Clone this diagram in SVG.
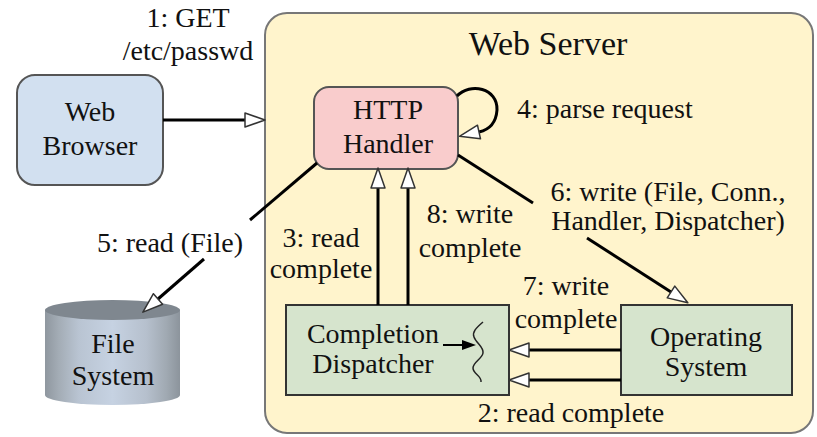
<svg xmlns="http://www.w3.org/2000/svg" width="817" height="437" viewBox="0 0 817 437" font-family="Liberation Serif, Times New Roman, serif" font-size="28">
<style>
.c{text-anchor:middle}
.ln{stroke:#000;stroke-width:3;fill:none}
.arr{marker-end:url(#open)}
.box{stroke:#333;stroke-width:2;fill:#d6e4cd}
</style>
<defs>
<marker id="open" markerUnits="userSpaceOnUse" markerWidth="26" markerHeight="20" refX="2" refY="9" orient="auto">
<path d="M2,2 L22,9 L2,16 z" fill="#fff" stroke="#333" stroke-width="1.5" stroke-linejoin="round"/>
</marker>
<linearGradient id="cyl" x1="0" y1="0" x2="1" y2="0">
<stop offset="0" stop-color="#8f979f"/>
<stop offset="0.1" stop-color="#a3acb5"/>
<stop offset="0.25" stop-color="#b9c4d2"/>
<stop offset="0.5" stop-color="#c6d2e2"/>
<stop offset="0.75" stop-color="#b6c0cd"/>
<stop offset="0.9" stop-color="#a0a9b2"/>
<stop offset="1" stop-color="#8c949c"/>
</linearGradient>
</defs>
<rect width="817" height="437" fill="#fff"/>

<g id="web-server">
<rect x="265" y="13" width="548" height="420" rx="22" fill="#fff4cc" stroke="#777" stroke-width="2"/>
<text class="c" x="548" y="55" font-size="34" fill="#111">Web Server</text>
</g>

<g id="web-browser" fill="#111">
<rect x="17" y="75" width="146" height="110" rx="18" fill="#d2e0f0" stroke="#555" stroke-width="2"/>
<text class="c" x="90" y="121">Web</text>
<text class="c" x="90" y="155">Browser</text>
</g>

<g id="http-handler" fill="#111">
<rect x="314" y="87" width="144" height="82" rx="15" fill="#f9cccc" stroke="#555" stroke-width="2"/>
<text class="c" x="388" y="119">HTTP</text>
<text class="c" x="388" y="153">Handler</text>
</g>

<g id="completion-dispatcher" fill="#111">
<rect class="box" x="286" y="305" width="223" height="90"/>
<text class="c" x="373" y="343">Completion</text>
<text class="c" x="373" y="373">Dispatcher</text>
<line x1="443" y1="345" x2="463" y2="345" stroke="#000" stroke-width="2"/>
<polygon points="462,340 476,345 462,350" fill="#000"/>
<path d="M483,322 C476,328 472,332 474,337 C476,343 484,347 483,353 C482,359 473,362 473,368 C473,374 482,376 481,382" fill="none" stroke="#222" stroke-width="1.5"/>
</g>

<g id="operating-system" fill="#111">
<rect class="box" x="621" y="305" width="171" height="90"/>
<text class="c" x="706" y="346">Operating</text>
<text class="c" x="706" y="376">System</text>
</g>

<g id="file-system" fill="#111">
<path d="M45,310 L45,395 A67.5,10 0 0 0 180,395 L180,310 z" fill="url(#cyl)"/>
<ellipse cx="112.5" cy="310" rx="67.5" ry="10" fill="#7f878f"/>
<text class="c" x="113" y="353">File</text>
<text class="c" x="113" y="385">System</text>
</g>

<g id="connectors">
<line class="ln arr" x1="163" y1="120" x2="245" y2="120"/>
<path class="ln arr" d="M457,96 C470,82 498,88 497,110 C496,124 488,130 479,132"/>
<line class="ln" x1="317" y1="163" x2="250" y2="220"/>
<line class="ln arr" x1="204" y1="259" x2="158" y2="299"/>
<line class="ln" x1="458" y1="155" x2="533" y2="203"/>
<line class="ln arr" x1="587" y1="238" x2="671" y2="292"/>
<line class="ln arr" x1="378" y1="305" x2="378" y2="188"/>
<line class="ln arr" x1="408" y1="305" x2="408" y2="188"/>
<line class="ln arr" x1="621" y1="350" x2="529" y2="350"/>
<line class="ln arr" x1="621" y1="380" x2="529" y2="380"/>
</g>

<g id="edge-labels" fill="#111">
<text class="c" x="188" y="27">1: GET</text>
<text class="c" x="188" y="60">/etc/passwd</text>
<text x="517" y="118">4: parse request</text>
<text class="c" x="668" y="201">6: write (File, Conn.,</text>
<text class="c" x="668" y="230">Handler, Dispatcher)</text>
<text class="c" x="170" y="252">5: read (File)</text>
<text class="c" x="321" y="247">3: read</text>
<text class="c" x="321" y="278">complete</text>
<text class="c" x="470" y="223">8: write</text>
<text class="c" x="470" y="257">complete</text>
<text class="c" x="566" y="295">7: write</text>
<text class="c" x="566" y="328">complete</text>
<text class="c" x="571" y="422">2: read complete</text>
</g>
</svg>
